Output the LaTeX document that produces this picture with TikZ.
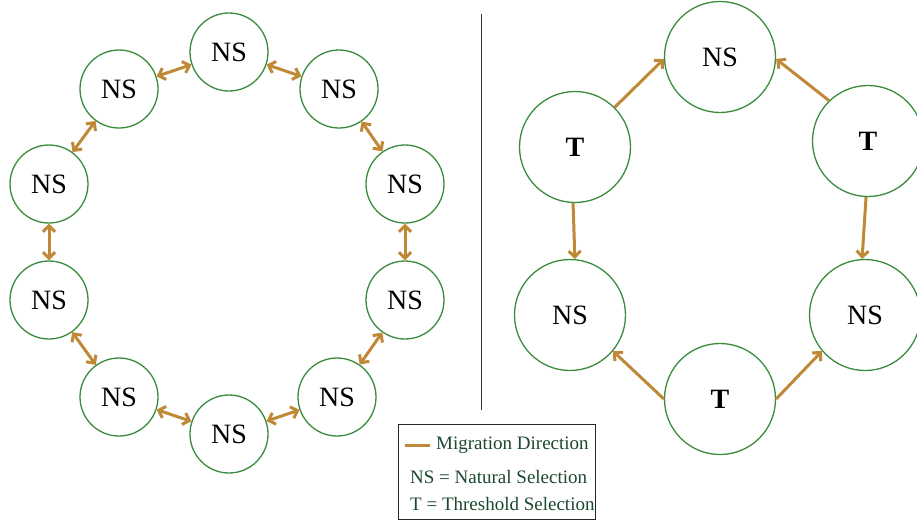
\documentclass[tikz,border=0pt]{standalone}
\usepackage{fontspec}
\setmainfont{Liberation Serif}
\usetikzlibrary{arrows.meta}
\definecolor{migr}{RGB}{191,137,56}
\definecolor{ring}{RGB}{58,140,60}
\definecolor{legtext}{RGB}{28,72,48}
\tikzset{
  popsmall/.style={circle,draw=ring,line width=1.3pt,minimum size=78pt,inner sep=0pt,font=\fontsize{28}{30}\selectfont},
  popbig/.style={circle,draw=ring,line width=1.3pt,minimum size=111pt,inner sep=0pt,font=\fontsize{28}{30}\selectfont},
  barb/.tip={Straight Barb[length=6pt,width=12pt]},
  migrate/.style={draw=migr,line width=3pt,-barb},
  twoway/.style={draw=migr,line width=3pt,barb-barb},
  legline/.style={font=\fontsize{19}{21}\selectfont,text=legtext,inner sep=0pt}
}
\begin{document}
\begin{tikzpicture}[x=1pt,y=-1pt]
\useasboundingbox (0,0) rectangle (917,520);
% ring of natural-selection populations
\node[popsmall] (a1) at (229,52) {NS};
\node[popsmall] (a2) at (339,89) {NS};
\node[popsmall] (a3) at (405,184) {NS};
\node[popsmall] (a4) at (405,300) {NS};
\node[popsmall] (a5) at (337,397) {NS};
\node[popsmall] (a6) at (229,434) {NS};
\node[popsmall] (a7) at (119,397) {NS};
\node[popsmall] (a8) at (49,300) {NS};
\node[popsmall] (a9) at (49,184) {NS};
\node[popsmall] (a10) at (119,89) {NS};
\foreach \p/\q in {a1/a2,a2/a3,a3/a4,a4/a5,a5/a6,a6/a7,a7/a8,a8/a9,a9/a10,a10/a1}
  \draw[twoway] (\p) -- (\q);
% divider
\coordinate (d1) at (481,14);
\coordinate (d2) at (481,410);
\draw[line width=1pt,black!80] (d1) -- (d2);
% mixed ring
\node[popbig] (b1) at (720,57) {NS};
\node[popbig] (b2) at (868,141) {\textbf{T}};
\node[popbig] (b3) at (865,315) {NS};
\node[popbig] (b4) at (720,399) {\textbf{T}};
\node[popbig] (b5) at (570,315) {NS};
\node[popbig] (b6) at (575,147) {\textbf{T}};
\draw[migrate] (b6.45) -- (b1.182);
\draw[migrate] (b2.134) -- (b1.358);
\draw[migrate] (b6.268) -- (b5.85);
\draw[migrate] (b2.268) -- (b3.93);
\draw[migrate] (b4.180) -- (b5.-40);
\draw[migrate] (b4.0) -- (b3.220);
% legend
\node[draw=black!85,line width=1pt,minimum width=197pt,minimum height=95pt,inner sep=0pt] (leg) at (496.5,471.5) {};
\coordinate (l1) at (405,445);
\coordinate (l2) at (430,445);
\draw[draw=migr,line width=3pt] (l1) -- (l2);
\node[legline,anchor=west] (t1) at (436,445) {Migration Direction};
\node[legline,anchor=west] (t2) at (410,477) {NS = Natural Selection};
\node[legline,anchor=west] (t3) at (410,504) {T = Threshold Selection};
\end{tikzpicture}
\end{document}
